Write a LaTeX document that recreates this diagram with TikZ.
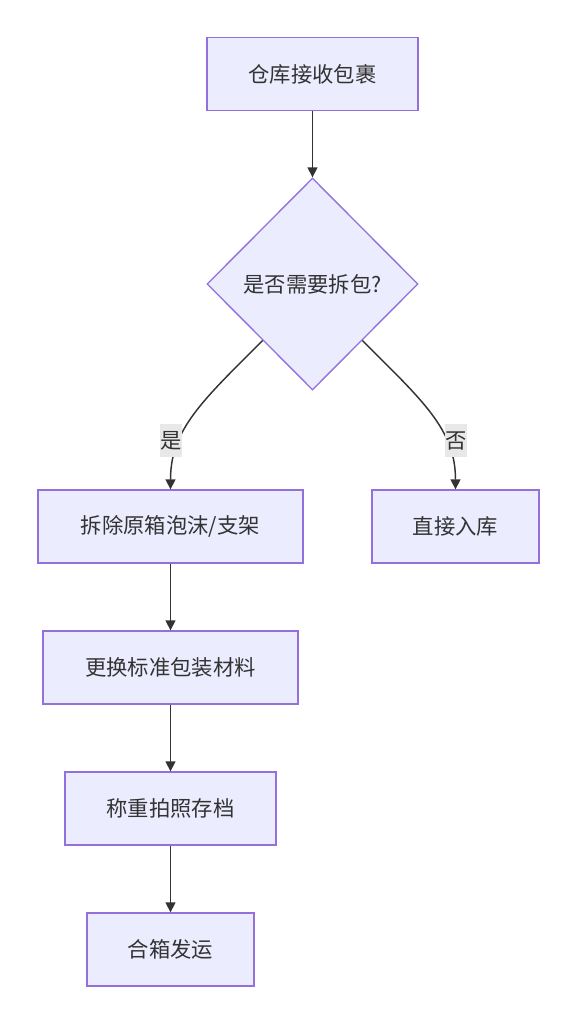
\documentclass[tikz,border=0pt]{standalone}
\usepackage{fontspec}
\setmainfont{Noto Sans CJK SC}
\usetikzlibrary{shapes.geometric,arrows.meta,calc}
\definecolor{boxfill}{HTML}{ECECFF}
\definecolor{boxline}{HTML}{9370DB}
\definecolor{ink}{HTML}{333333}
\definecolor{lblbg}{HTML}{E8E8E8}
\tikzset{
  stepbox/.style={draw=boxline, fill=boxfill, line width=1pt, text=ink, minimum height=54.75pt, inner sep=0pt, font=\fontsize{16pt}{19pt}\selectfont},
  decision/.style={diamond, draw=boxline, fill=boxfill, line width=1pt, text=ink, minimum width=158.25pt, minimum height=159pt, inner sep=0pt, font=\fontsize{16pt}{19pt}\selectfont},
  arr/.style={draw=ink, line width=1.1pt, -{Triangle[length=7.5pt,width=7.5pt]}},
  lbl/.style={fill=lblbg, text=ink, inner xsep=0.5pt, inner ysep=0pt, minimum height=24.75pt, font=\fontsize{16pt}{19pt}\selectfont}
}
\begin{document}
\begin{tikzpicture}[x=0.75pt,y=-0.75pt]
\useasboundingbox (0,0) rectangle (577,1024);
\node[stepbox, minimum width=158.25pt] (recv) at (312.5,74) {仓库接收包裹};
\node[decision] (dec) at (312.5,284) {是否需要拆包?};
\node[stepbox, minimum width=198.75pt] (strip) at (170.5,526.5) {拆除原箱泡沫/支架};
\node[stepbox, minimum width=125.25pt] (direct) at (455.5,526.5) {直接入库};
\node[stepbox, minimum width=191.25pt] (repack) at (170.5,667.5) {更换标准包装材料};
\node[stepbox, minimum width=158.25pt] (weigh) at (170.5,808.5) {称重拍照存档};
\node[stepbox, minimum width=125.25pt] (ship) at (170.5,949.5) {合箱发运};
\coordinate (dl) at ($(dec.west)!0.53!(dec.south)$);
\coordinate (dr) at ($(dec.east)!0.53!(dec.south)$);
\draw[arr] (recv.south) -- (dec.north);
\draw[arr] (dl) .. controls +(-60,60) and +(0,-60) .. (strip.north);
\draw[arr] (dr) .. controls +(60,60) and +(0,-60) .. (direct.north);
\node[lbl] (yes) at (171,440.5) {是};
\node[lbl] (no) at (456,440.5) {否};
\draw[arr] (strip.south) -- (repack.north);
\draw[arr] (repack.south) -- (weigh.north);
\draw[arr] (weigh.south) -- (ship.north);
\end{tikzpicture}
\end{document}
